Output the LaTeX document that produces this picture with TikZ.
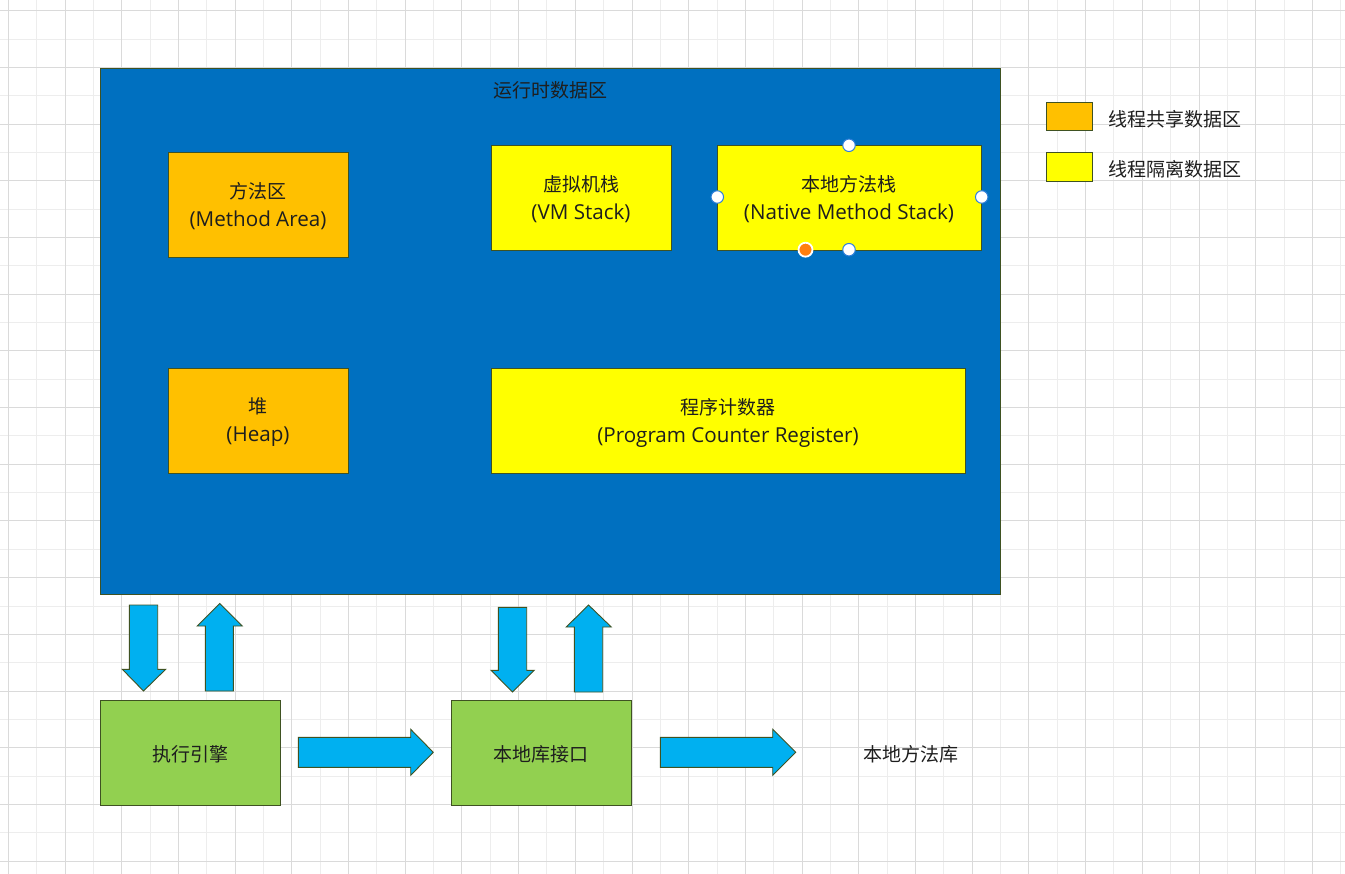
\documentclass[tikz,border=0pt]{standalone}
\usepackage{fontspec}
\setmainfont{Noto Sans CJK SC}
\newfontfamily\latinfont{Open Sans}
\newcommand{\lat}[1]{{\latinfont\fontsize{20.6}{28}\selectfont #1}}
\definecolor{runblue}{HTML}{0070C0}
\definecolor{shareorange}{HTML}{FFC000}
\definecolor{isoyellow}{HTML}{FFFF00}
\definecolor{enggreen}{HTML}{92D050}
\definecolor{arrowcyan}{HTML}{00B0F0}
\definecolor{edgeolive}{HTML}{3F5222}
\definecolor{griddark}{HTML}{DADADA}
\definecolor{gridlight}{HTML}{EDEDED}
\definecolor{txt}{HTML}{1E1E1E}
\definecolor{handleblue}{HTML}{2F7FD9}
\definecolor{handleorange}{HTML}{FF7F0F}
\begin{document}
\begin{tikzpicture}[x=1pt,y=-1pt,
  every node/.style={text=txt,font=\fontsize{19}{28}\selectfont},
  box/.style={draw=edgeolive,line width=0.9pt,inner sep=0pt,align=center},
  blockarrow/.style={draw=edgeolive,line width=0.9pt,fill=arrowcyan,line join=miter},
  handle/.style={circle,draw=handleblue,fill=white,line width=1pt,minimum size=12.5pt,inner sep=0pt},
]
\useasboundingbox (0,0) rectangle (1345,874);
\fill[white] (0,0) rectangle (1345,874);
% grid
\foreach \i in {0,...,23}{
  \draw[gridlight,line width=1pt] ({8.3+28.35+56.7*\i},0) -- ({8.3+28.35+56.7*\i},874);
}
\foreach \i in {0,...,15}{
  \draw[gridlight,line width=1pt] (0,{10.7+28.35+56.7*\i}) -- (1345,{10.7+28.35+56.7*\i});
}
\foreach \i in {0,...,23}{
  \draw[griddark,line width=1pt] ({8.3+56.7*\i},0) -- ({8.3+56.7*\i},874);
}
\foreach \i in {0,...,15}{
  \draw[griddark,line width=1pt] (0,{10.7+56.7*\i}) -- (1345,{10.7+56.7*\i});
}
% runtime data area
\draw[draw=edgeolive,line width=0.9pt,fill=runblue] (100,68) rectangle (1000,594);
\node (title) at (550,90.5) {运行时数据区};
\draw[box,fill=shareorange] (168,152) rectangle (348,257);
\node[align=center] (method) at (258,206.5) {方法区\\\lat{(Method Area)}};
\draw[box,fill=shareorange] (168,368) rectangle (348,473);
\node[align=center] (heap) at (258,422.5) {堆\\\lat{(Heap)}};
\draw[box,fill=isoyellow] (491,145) rectangle (671,250);
\node[align=center] (vm) at (581,199.5) {虚拟机栈\\\lat{(VM Stack)}};
\draw[box,fill=isoyellow] (717,145) rectangle (981,250);
\node[align=center] (native) at (849,199.5) {本地方法栈\\\lat{(Native Method Stack)}};
\draw[box,fill=isoyellow] (491,368) rectangle (965,473);
\node[align=center] (pc) at (728,422.5) {程序计数器\\\lat{(Program Counter Register)}};
% selection handles
\node[handle] (h1) at (849,145.3) {};
\node[handle] (h2) at (717.3,197) {};
\node[handle] (h3) at (981.7,197) {};
\node[handle] (h4) at (849,249.7) {};
\node[circle,draw=white,fill=handleorange,line width=1.8pt,minimum size=14pt,inner sep=0pt] (h5) at (805.5,249.7) {};
% legend
\draw[box,fill=shareorange] (1046,102) rectangle (1092.5,130);
\node[anchor=west] (leg1) at (1105,119) {线程共享数据区};
\draw[box,fill=isoyellow] (1046,152) rectangle (1092.5,181);
\node[anchor=west] (leg2) at (1105,169) {线程隔离数据区};
% bottom boxes
\draw[box,fill=enggreen] (100.5,700.3) rectangle (280.3,805);
\node (exec) at (190.4,754.5) {执行引擎};
\draw[box,fill=enggreen] (451.3,700.3) rectangle (631.3,805);
\node (jni) at (541.3,754.5) {本地库接口};
\node (lib) at (910.8,754.5) {本地方法库};
% vertical block arrows
\draw[blockarrow] (129.3,605) -- (157.7,605) -- (157.7,669.3) -- (165.7,669.3) -- (143.5,691) -- (122.3,669.3) -- (129.3,669.3) -- cycle;
\draw[blockarrow] (205.3,691) -- (233.3,691) -- (233.3,626) -- (242.3,626) -- (219.8,603.5) -- (197.3,626) -- (205.3,626) -- cycle;
\draw[blockarrow] (498.3,607.3) -- (526.7,607.3) -- (526.7,670.3) -- (534.3,670.3) -- (512.5,692) -- (491,670.3) -- (498.3,670.3) -- cycle;
\draw[blockarrow] (574.3,692) -- (602.7,692) -- (602.7,627) -- (611.3,627) -- (588.5,605) -- (566.3,627) -- (574.3,627) -- cycle;
% horizontal block arrows
\draw[blockarrow] (298.3,737.3) -- (410.7,737.3) -- (410.7,729.3) -- (433.3,752.3) -- (410.7,775.3) -- (410.7,767.3) -- (298.3,767.3) -- cycle;
\draw[blockarrow] (660.3,737.3) -- (772.7,737.3) -- (772.7,729.3) -- (795.7,752.3) -- (772.7,775.3) -- (772.7,767.3) -- (660.3,767.3) -- cycle;
\end{tikzpicture}
\end{document}
